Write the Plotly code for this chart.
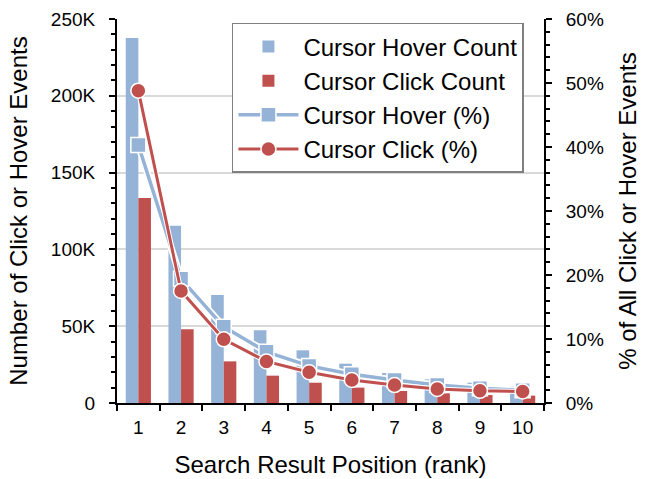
import plotly.graph_objects as go

positions = ["1", "2", "3", "4", "5", "6", "7", "8", "9", "10"]
hover_count = [237600, 115400, 70300, 47300, 34300, 25600, 19500, 15400, 13200, 11000]
click_count = [133500, 48000, 27100, 17800, 13200, 10000, 7800, 6300, 5200, 4800]
hover_pct = [0.403, 0.194, 0.119, 0.080, 0.058, 0.045, 0.036, 0.028, 0.023, 0.020]
click_pct = [0.488, 0.175, 0.0995, 0.065, 0.048, 0.036, 0.028, 0.022, 0.019, 0.018]
left_ticks = [0, 50000, 100000, 150000, 200000, 250000]
left_labels = ["0", "50K", "100K", "150K", "200K", "250K"]

BLUE = "#95B3D7"
RED = "#C0504D"
FONT = "Liberation Sans, Arial, sans-serif"
TICK = 19
TITLE = 24

fig = go.Figure()
fig.add_trace(go.Bar(x=positions, y=hover_count, name="Cursor Hover Count",
                     marker=dict(color=BLUE, line=dict(width=0))))
fig.add_trace(go.Bar(x=positions, y=click_count, name="Cursor Click Count",
                     marker=dict(color=RED, line=dict(width=0))))
# white outline under lines
fig.add_trace(go.Scatter(x=positions, y=hover_pct, yaxis="y2", mode="lines",
                         line=dict(color="white", width=7), showlegend=False, hoverinfo="skip"))
fig.add_trace(go.Scatter(x=positions, y=hover_pct, yaxis="y2", mode="lines+markers",
                         name="Cursor Hover (%)",
                         line=dict(color=BLUE, width=3.5),
                         marker=dict(symbol="square", size=15, color=BLUE,
                                     line=dict(color="white", width=1.5))))
fig.add_trace(go.Scatter(x=positions, y=click_pct, yaxis="y2", mode="lines",
                         line=dict(color="white", width=5), showlegend=False, hoverinfo="skip"))
fig.add_trace(go.Scatter(x=positions, y=click_pct, yaxis="y2", mode="lines+markers",
                         name="Cursor Click (%)",
                         line=dict(color=RED, width=3),
                         marker=dict(symbol="circle", size=15, color=RED,
                                     line=dict(color="white", width=1.5))))

fig.update_layout(
    width=649, height=479,
    margin=dict(l=117, r=105, t=19, b=76),
    paper_bgcolor="white", plot_bgcolor="white",
    font=dict(family=FONT, color="black", size=TICK),
    barmode="group", bargap=0.41, bargroupgap=0,
    showlegend=True,
    legend=dict(x=0.953, y=0.99, xanchor="right", yanchor="top",
                bgcolor="white", bordercolor="#808080", borderwidth=1.5,
                font=dict(size=TITLE, family=FONT), tracegroupgap=0,
                itemwidth=60, traceorder="normal"),
    xaxis=dict(type="category", range=[-0.5, 9.5], tickson="boundaries", ticks="outside",
               ticklen=6, tickwidth=2, tickcolor="black", showline=True, linecolor="black",
               linewidth=2, showgrid=False, automargin=False, ticklabelstandoff=6,
               title=dict(text="Search Result Position (rank)", font=dict(size=TITLE), standoff=19),
               tickfont=dict(size=TICK)),
    yaxis=dict(range=[0, 250000], tickvals=left_ticks, ticktext=left_labels,
               ticks="outside", ticklen=6, tickwidth=2, tickcolor="black",
               showline=True, linecolor="black", linewidth=2, automargin=False,
               ticklabelstandoff=10,
               showgrid=True, gridcolor="#D9D9D9", gridwidth=1.5, zeroline=False,
               minor=dict(dtick=10000, ticks="outside", ticklen=4, tickwidth=1.5,
                          tickcolor="black", showgrid=False),
               title=dict(text="Number of Click or Hover Events", font=dict(size=TITLE), standoff=16),
               tickfont=dict(size=TICK)),
    yaxis2=dict(range=[0, 0.6], overlaying="y", side="right", dtick=0.1, tickformat=".0%",
                ticks="outside", ticklen=6, tickwidth=2, tickcolor="black",
                showline=True, linecolor="black", linewidth=2, showgrid=False,
                zeroline=False, automargin=False, ticklabelstandoff=10,
                minor=dict(dtick=0.02, ticks="outside", ticklen=4, tickwidth=1.5,
                           tickcolor="black", showgrid=False),
                title=dict(text="% of All Click or Hover Events", font=dict(size=TITLE), standoff=16),
                tickfont=dict(size=TICK)),
)

fig.write_html("out.html", config={"displayModeBar": False},
               post_script="document.body.style.margin='0px';")
